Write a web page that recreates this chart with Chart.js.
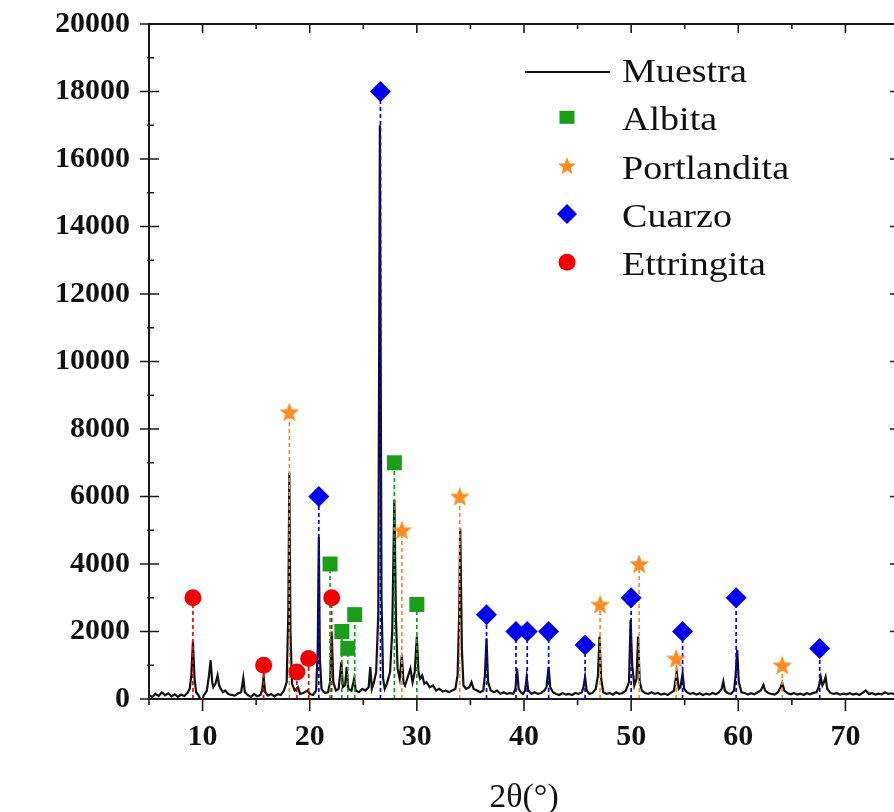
<!DOCTYPE html>
<html>
<head>
<meta charset="utf-8">
<script src="https://cdn.jsdelivr.net/npm/chart.js@4.4.0/dist/chart.umd.min.js"></script>
<style>
  body { margin: 0; overflow: hidden; background: #fff; }
  #xrd { position: absolute; left: 0; top: 0; }
</style>
</head>
<body>
<canvas id="xrd" width="911" height="812"></canvas>
<script>
// difractograma leido a ojo de la figura: [2theta, intensidad]
var muestra = [
  [5.0,120],[5.3,60],[5.6,150],[5.9,90],[6.2,200],[6.5,110],[6.8,170],[7.1,80],[7.4,140],[7.7,60],
  [8.0,130],[8.3,90],[8.6,180],[8.8,300],[8.95,700],[9.1,1700],[9.25,600],[9.4,200],[9.6,120],[9.9,-80],
  [10.1,100],[10.4,250],[10.6,700],[10.75,1150],[10.9,500],[11.0,350],[11.2,450],[11.4,700],[11.55,400],[11.7,300],
  [11.9,200],[12.1,250],[12.4,150],[12.7,120],[13.0,100],[13.3,160],[13.6,200],[13.8,620],[13.95,200],[14.2,120],
  [14.5,60],[14.8,150],[15.1,80],[15.4,120],[15.55,250],[15.7,650],[15.85,200],[16.1,100],[16.4,150],[16.7,80],
  [17.0,140],[17.3,120],[17.6,250],[17.85,500],[18.0,2500],[18.1,6700],[18.2,2000],[18.35,450],[18.6,250],[18.9,350],
  [19.1,150],[19.4,180],[19.8,250],[20.0,150],[20.3,120],[20.6,250],[20.75,1500],[20.85,4800],[20.95,1200],[21.1,300],
  [21.4,180],[21.7,200],[21.9,500],[22.05,2000],[22.2,500],[22.45,250],[22.7,300],[22.95,1100],[23.1,350],[23.3,400],
  [23.45,950],[23.6,300],[23.9,250],[24.15,600],[24.3,250],[24.6,200],[24.9,300],[25.2,250],[25.5,350],[25.65,950],
  [25.8,300],[26.0,500],[26.2,800],[26.4,2500],[26.55,17000],[26.7,3000],[26.85,600],[27.0,300],[27.2,450],[27.5,800],
  [27.7,2000],[27.9,5900],[28.05,2400],[28.2,900],[28.4,600],[28.6,1300],[28.75,500],[28.9,400],[29.1,600],[29.4,900],
  [29.6,500],[29.8,800],[30.0,1850],[30.15,800],[30.3,600],[30.5,700],[30.7,450],[30.9,500],[31.2,350],[31.5,400],
  [31.8,250],[32.1,300],[32.4,220],[32.7,250],[33.0,200],[33.3,250],[33.6,300],[33.8,700],[33.95,2500],[34.05,5050],
  [34.2,1500],[34.35,400],[34.6,300],[34.9,350],[35.1,500],[35.3,300],[35.6,250],[35.9,200],[36.2,250],[36.35,700],
  [36.5,1800],[36.65,500],[36.9,250],[37.2,200],[37.5,250],[37.8,150],[38.1,200],[38.4,150],[38.7,180],[39.0,150],
  [39.2,300],[39.35,900],[39.5,300],[39.7,200],[39.9,150],[40.1,250],[40.25,650],[40.4,250],[40.7,150],[41.0,200],
  [41.3,150],[41.6,180],[41.9,250],[42.1,350],[42.3,950],[42.45,350],[42.7,200],[43.0,150],[43.3,120],[43.6,180],
  [43.9,130],[44.2,150],[44.5,120],[44.8,180],[45.1,150],[45.4,200],[45.55,350],[45.7,650],[45.85,250],[46.1,150],
  [46.4,180],[46.7,300],[46.9,700],[47.05,1850],[47.2,600],[47.4,200],[47.7,150],[48.0,180],[48.3,130],[48.6,200],
  [48.9,150],[49.2,180],[49.5,250],[49.8,500],[49.95,2350],[50.1,1000],[50.3,400],[50.5,600],[50.65,1850],[50.8,500],
  [51.0,250],[51.3,180],[51.6,150],[51.9,200],[52.2,150],[52.5,180],[52.8,130],[53.1,160],[53.4,120],[53.7,180],
  [54.0,250],[54.25,800],[54.45,300],[54.6,350],[54.8,750],[54.95,300],[55.2,200],[55.5,150],[55.8,180],[56.1,130],
  [56.4,170],[56.7,120],[57.0,160],[57.3,130],[57.6,180],[57.9,140],[58.2,200],[58.45,300],[58.6,520],[58.75,250],
  [59.0,180],[59.3,150],[59.6,250],[59.75,700],[59.9,1450],[60.05,500],[60.3,200],[60.6,180],[60.9,130],[61.2,170],
  [61.5,140],[61.8,200],[62.1,250],[62.35,420],[62.5,250],[62.8,180],[63.1,150],[63.4,130],[63.7,200],[63.95,350],
  [64.1,480],[64.3,250],[64.6,170],[64.9,140],[65.2,180],[65.5,130],[65.8,160],[66.1,120],[66.4,170],[66.7,140],
  [67.0,180],[67.3,200],[67.5,350],[67.7,650],[67.85,400],[68.0,500],[68.15,650],[68.3,300],[68.6,180],[68.9,150],
  [69.2,170],[69.5,130],[69.8,160],[70.1,140],[70.4,170],[70.7,130],[71.0,160],[71.3,120],[71.6,180],[71.9,250],
  [72.2,150],[72.5,170],[72.8,130],[73.1,160],[73.4,140],[73.7,200],[74.0,150],[74.3,170],[74.6,140],[75.0,150]
];

// marcadores de cada fase: [2theta, altura del simbolo]
var albita = [[21.9,4000],[23.0,2000],[23.55,1500],[24.2,2500],[27.9,7000],[30.0,2800]];
var portlandita = [[18.1,8500],[28.6,5000],[34.0,6000],[47.1,2800],[50.75,4000],[54.2,1200],[64.1,1000]];
var cuarzo = [[20.85,6000],[26.6,18000],[36.5,2500],[39.25,2000],[40.3,2000],[42.3,2000],[45.7,1600],[50.0,3000],[54.8,2000],[59.8,3000],[67.6,1500]];
var ettringita = [[9.1,3000],[15.7,1000],[18.8,800],[19.9,1200],[22.05,3000]];

var xTicks = [10, 20, 30, 40, 50, 60, 70];
var yTicks = [0, 2000, 4000, 6000, 8000, 10000, 12000, 14000, 16000, 18000, 20000];

var VERDE = '#1a9e1a', NARANJA = '#fb8c23', AZUL = '#0000ee', ROJO = '#f20000';
var SERIF = "'Liberation Serif', 'Times New Roman', serif";

function starPath(ctx, cx, cy, ro, ri) {
    ctx.beginPath();
    for (var i = 0; i < 10; i++) {
        var r = i % 2 == 0 ? ro : ri;
        var a = -Math.PI / 2 + i * Math.PI / 5;
        ctx.lineTo(cx + r * Math.cos(a), cy + r * Math.sin(a));
    }
    ctx.closePath();
}

var starImg = document.createElement('canvas');
starImg.width = 22; starImg.height = 22;
var sctx = starImg.getContext('2d');
sctx.fillStyle = NARANJA;
starPath(sctx, 11, 11.8, 10.5, 4.4);
sctx.fill();

function pts(arr) { return arr.map(function (p) { return {x: p[0], y: p[1]}; }); }
function drops(arr) {
    var out = [];
    arr.forEach(function (p) { out.push({x: p[0], y: 0}, {x: p[0], y: p[1]}, {x: p[0], y: null}); });
    return out;
}
function dropSet(arr, color) {
    return { label: '', data: drops(arr), showLine: true, spanGaps: false, borderColor: color,
             borderWidth: 1.7, borderDash: [4, 3], pointRadius: 0, order: 1 };
}

// ticks hacia dentro y marco
var framePlugin = {
    id: 'frame',
    afterDraw: function (chart) {
        var c = chart.ctx, a = chart.chartArea, xs = chart.scales.x, ys = chart.scales.y;
        c.save();
        c.strokeStyle = '#1a1a1a';
        c.lineWidth = 2;
        c.strokeRect(a.left, a.top, a.right - a.left, a.bottom - a.top);
        c.lineWidth = 1.6;
        c.beginPath();
        for (var v = 5; v <= 75; v += 5) {
            var px = xs.getPixelForValue(v), big = v % 10 == 0;
            c.moveTo(px, a.bottom); c.lineTo(px, a.bottom + (big ? 12 : 6));
            c.moveTo(px, a.top); c.lineTo(px, a.top + (big ? 9 : 5));
        }
        for (var w = 0; w <= 20000; w += 1000) {
            var py = ys.getPixelForValue(w), major = w % 2000 == 0;
            c.moveTo(a.left - (major ? 9 : 2), py); c.lineTo(a.left + (major ? 10 : 5), py);
            c.moveTo(a.right, py); c.lineTo(a.right - (major ? 9 : 5), py);
        }
        c.stroke();
        c.restore();
    }
};

var legendPlugin = {
    id: 'leyenda',
    afterDraw: function (chart) {
        var c = chart.ctx;
        var names = ['Muestra', 'Albita', 'Portlandita', 'Cuarzo', 'Ettringita'];
        var tx = 622, mx = 567;
        c.save();
        c.fillStyle = '#111';
        c.textBaseline = 'alphabetic';
        c.font = '34px ' + SERIF;
        for (var i = 0; i < names.length; i++) {
            var base = 82 + i * 48.3;
            c.save();
            c.translate(tx, base);
            c.scale(1.12, 1);
            c.fillText(names[i], 0, 0);
            c.restore();
            var my = base - 13;
            if (i == 0) {
                c.strokeStyle = '#111'; c.lineWidth = 2;
                c.beginPath(); c.moveTo(525, base - 10); c.lineTo(610, base - 10); c.stroke();
            } else if (i == 1) {
                c.fillStyle = VERDE; c.fillRect(mx - 7.5, my - 6.5, 15, 13);
            } else if (i == 2) {
                c.fillStyle = NARANJA; starPath(c, mx, my + 1, 9.5, 4); c.fill();
            } else if (i == 3) {
                c.fillStyle = AZUL; c.beginPath();
                c.moveTo(mx, my - 10); c.lineTo(mx + 10, my); c.lineTo(mx, my + 10); c.lineTo(mx - 10, my);
                c.closePath(); c.fill();
            } else {
                c.fillStyle = ROJO; c.beginPath(); c.arc(mx, my, 8.5, 0, Math.PI * 2); c.fill();
            }
            c.fillStyle = '#111';
        }
        c.restore();
    }
};

var ctx = document.getElementById('xrd').getContext('2d');
var chart = new Chart(ctx, {
    type: 'scatter',
    data: {
        datasets: [
            { label: 'Albita', data: pts(albita), pointStyle: 'rect', pointRadius: 10.6, backgroundColor: VERDE, borderWidth: 0, order: 0 },
            { label: 'Portlandita', data: pts(portlandita), pointStyle: starImg, pointRadius: 11, order: 0 },
            { label: 'Cuarzo', data: pts(cuarzo), pointStyle: 'rectRot', pointRadius: 10.5, backgroundColor: AZUL, borderWidth: 0, order: 0 },
            { label: 'Ettringita', data: pts(ettringita), pointStyle: 'circle', pointRadius: 8.5, backgroundColor: ROJO, borderWidth: 0, order: 0 },
            dropSet(albita, VERDE),
            dropSet(portlandita, NARANJA),
            dropSet(cuarzo, AZUL),
            dropSet(ettringita, ROJO),
            { label: 'Muestra', data: pts(muestra), showLine: true, borderColor: '#111', borderWidth: 2.2,
              pointRadius: 0, tension: 0, order: 2 }
        ]
    },
    options: {
        responsive: false,
        animation: false,
        events: [],
        layout: { padding: { top: 24, right: 2, left: 0, bottom: 0 } },
        plugins: { legend: { display: false }, tooltip: { enabled: false } },
        scales: {
            x: {
                type: 'linear', min: 5, max: 75,
                grid: { display: false, drawTicks: false },
                border: { display: false },
                afterBuildTicks: function (s) { s.ticks = xTicks.map(function (v) { return {value: v}; }); },
                afterFit: function (s) { s.height = 113; },
                ticks: { padding: 20, color: '#111', font: { family: SERIF, size: 30, weight: 'bold' },
                         callback: function (v) { return String(v); } },
                title: { display: true, text: '2θ(°)', color: '#111', padding: { top: 0, bottom: 0 },
                         font: { family: SERIF, size: 34, lineHeight: 0.8 } }
            },
            y: {
                min: 0, max: 20000,
                grid: { display: false, drawTicks: false },
                border: { display: false },
                afterBuildTicks: function (s) { s.ticks = yTicks.map(function (v) { return {value: v}; }); },
                afterFit: function (s) { s.width = 149; s.paddingTop = 0; s.paddingBottom = 0; },
                ticks: { padding: 19, color: '#111', font: { family: SERIF, size: 30, weight: 'bold' },
                         callback: function (v) { return String(v); } }
            }
        }
    },
    plugins: [framePlugin, legendPlugin]
});
</script>
</body>
</html>
